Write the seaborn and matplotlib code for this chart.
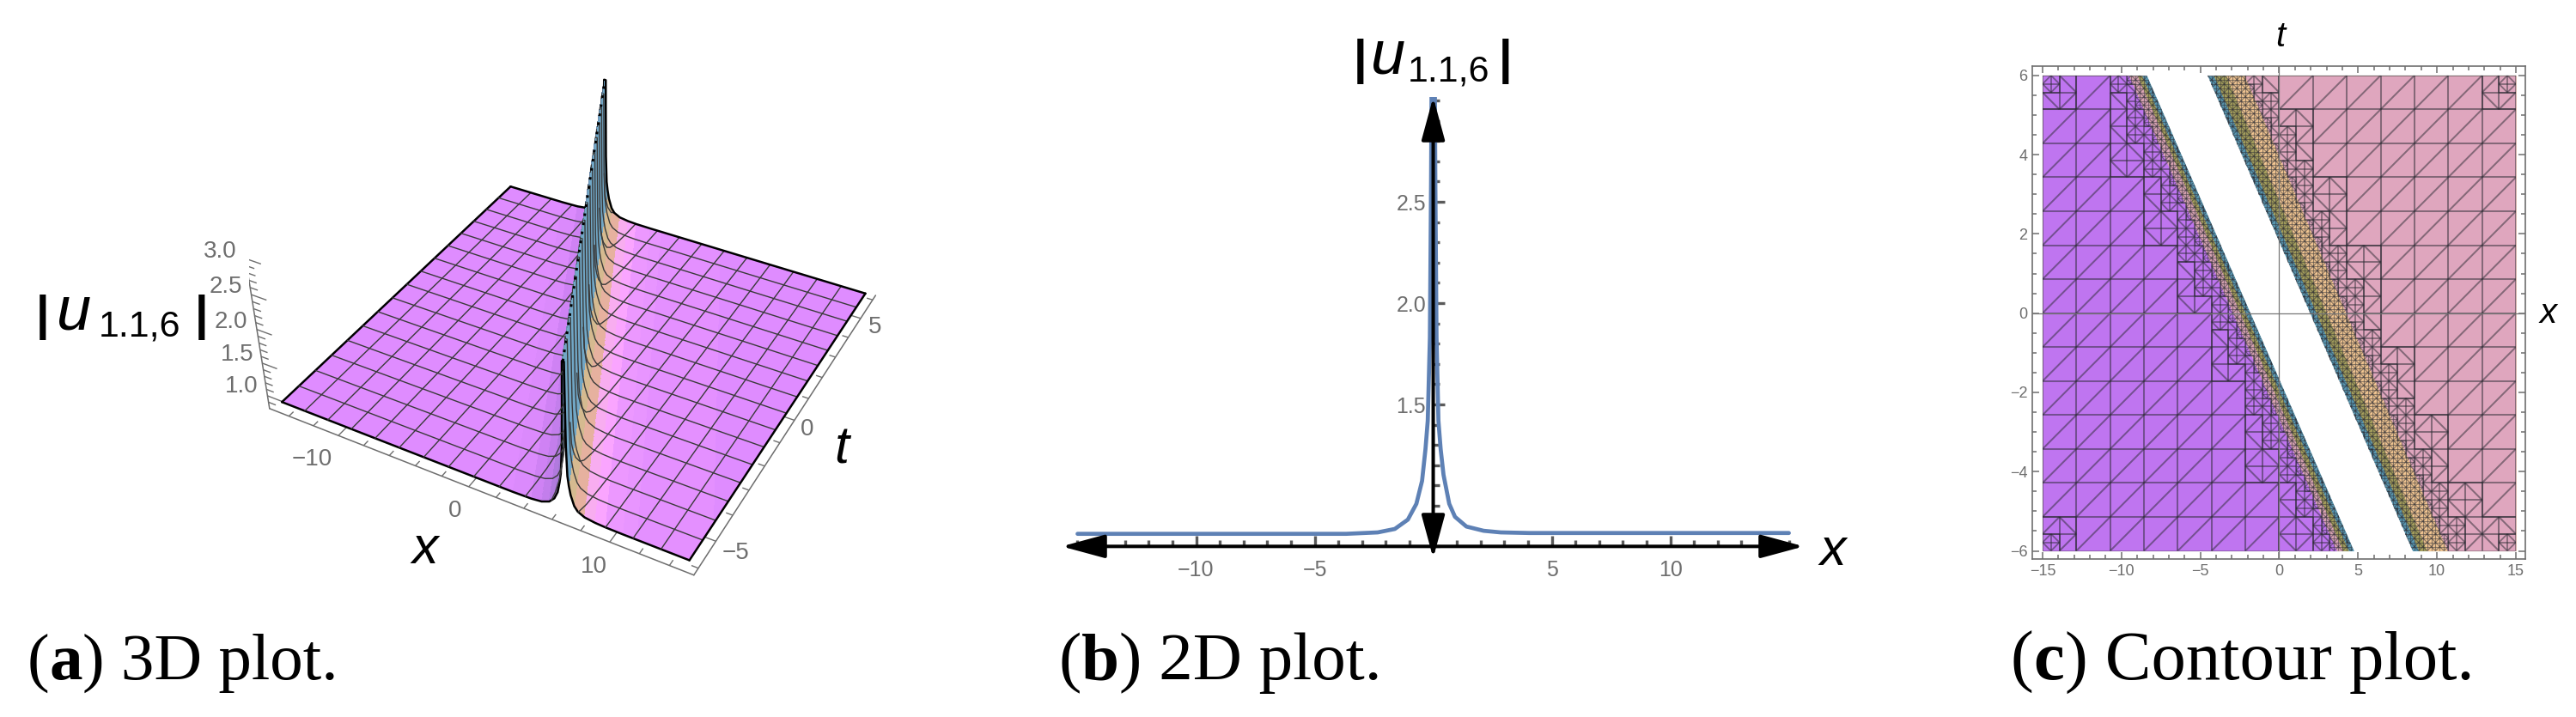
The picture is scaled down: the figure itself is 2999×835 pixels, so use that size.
import numpy as np
import matplotlib
matplotlib.use("Agg")
import matplotlib.pyplot as plt
import seaborn as sns
from matplotlib.collections import LineCollection
from matplotlib.colors import LinearSegmentedColormap
from matplotlib.path import Path
from matplotlib.ticker import FixedLocator, MultipleLocator, NullFormatter
from mpl_toolkits.mplot3d.art3d import Line3DCollection

# soliton profile
profile_x = [-15, -10, -5, -3.67, -2.34, -1.62, -1.07, -0.71, -0.47, -0.326, -0.23, -0.14,
             -0.115, -0.09, -0.07, 0, 0.07, 0.09, 0.115, 0.14, 0.22, 0.314, 0.435, 0.676,
             0.918, 1.40, 2.126, 2.85, 4.06, 5, 10, 15]
profile_u = [0.862, 0.862, 0.862, 0.862, 0.869, 0.886, 0.932, 1.01, 1.123, 1.28, 1.42, 1.83,
             2.21, 2.6, 3.05, 3.6, 3.05, 2.6, 2.21, 1.83, 1.42, 1.28, 1.153, 1.01,
             0.946, 0.898, 0.877, 0.869, 0.866, 0.866, 0.866, 0.866]
ridge_t = [-6, 6]
ridge_x = [6.54, -6.54]

# contour bands, x at t=-6 and t=6
t_edges = [-6, 6]
left_violet_end = [3.64, -9.54]
left_pink_end = [4.03, -9.0]
left_olive_end = [4.4, -8.7]
left_teal_end = [4.73, -8.4]
right_teal_start = [8.45, -4.55]
right_olive_start = [8.84, -4.16]
right_orange_start = [9.36, -3.38]
right_orange_end = [10.66, -2.2]

b_xticks = [-10, -5, 5, 10]
b_yticks = [1.5, 2.0, 2.5]
c_xticks = [-15, -10, -5, 0, 5, 10, 15]
c_yticks = [-6, -4, -2, 0, 2, 4, 6]
a_xlabels = ["\u221210", "0", "10"]
a_tlabels = ["\u22125", "0", "5"]
a_zlabels = ["1.0", "1.5", "2.0", "2.5", "3.0"]

W, H = 2999, 835
GRAY = "#6e6e6e"

sns.set_theme(style="white")
plt.rcParams["font.family"] = ["Liberation Sans", "DejaVu Sans"]

fig = plt.figure(figsize=(W / 100, H / 100), dpi=100)


def px_axes(left, top, right, bottom, **kw):
    return fig.add_axes([left / W, 1 - bottom / H, (right - left) / W, (bottom - top) / H], **kw)


def put(x, y, s, **kw):
    kw.setdefault("ha", "center")
    kw.setdefault("va", "center")
    return fig.text(x / W, 1 - y / H, s, **kw)


def u_label(bar1, u_x, sub_x, bar2, y):
    put(bar1, y, "|", fontsize=40, color="black", weight="bold")
    put(u_x, y - 5, "u", fontsize=52, color="black", style="italic")
    put(sub_x, y + 11, "1.1,6", fontsize=31, color="black")
    put(bar2, y, "|", fontsize=40, color="black", weight="bold")


def caption(x, letter, rest, size):
    renderer = fig.canvas.get_renderer()
    for text, weight in [("(", "normal"), (letter, "bold"), (rest, "normal")]:
        t = put(x, 791, text, fontsize=size, weight=weight, family="Liberation Serif",
                color="black", ha="left", va="baseline")
        x = t.get_window_extent(renderer).x1


# ---------- panel (a): 3D surface ----------
ax_a = fig.add_axes([289.6 / W, 117.4 / H, 765.9 / W, 765.9 / H], projection="3d",
                    computed_zorder=False)
ax_a.set_xlim(-15.6, 15.6)
ax_a.set_ylim(-6.25, 6.25)
ax_a.set_zlim(0.8, 3.0)
ax_a.view_init(elev=36.47, azim=-61.59)
ax_a.set_proj_type("persp", focal_length=0.438)
ax_a.set_box_aspect((1, 0.9966, 0.3946))
ax_a.set_axis_off()
ax_a.patch.set_alpha(0)

s = np.array([-40] + profile_x + [40], dtype=float)
u = np.minimum(np.array([profile_u[0]] + profile_u + [profile_u[-1]]), 3.0)
slope = (ridge_x[1] - ridge_x[0]) / (ridge_t[1] - ridge_t[0])

skin = LinearSegmentedColormap.from_list("skin", [
    (0.00, "#DF8CFF"), (0.45, "#DF8CFF"), (0.475, "#CB80F2"), (0.49, "#A878D8"),
    (0.496, "#7A6A95"), (0.499, "#6AA0C0"), (0.5, "#6FA5C5"), (0.503, "#72A8C6"),
    (0.5044, "#B8B8A0"), (0.5063, "#DDBA8C"), (0.51, "#E6B0A0"), (0.515, "#F2B0E4"),
    (0.521, "#FFAAFF"), (0.5375, "#EC98FF"), (0.58, "#DF8CFF"), (1.00, "#DF8CFF")])

t_rows = np.linspace(-6, 6, 73)
center = int(np.argmin(np.abs(s)))
for rng, order in [(np.arange(0, center + 1), 1), (np.arange(center, len(s)), 3)]:
    S, T = np.meshgrid(s[rng], t_rows)
    X = np.clip(S + slope * T, -15, 15)
    Z = np.tile(u[rng], (len(t_rows), 1))
    colors = skin((S + 40) / 80)
    ax_a.plot_surface(X, T, Z, facecolors=colors, shade=False, rstride=1, cstride=1,
                      linewidth=0, antialiased=False, zorder=order)

mesh_color = "#3a3a3a"
for k in range(17):
    edge = k in (0, 16)
    tk = -6 + 12 * k / 16
    xk = -15 + 30 * k / 16
    # lines of constant t follow the profile itself
    for rng, order in [(np.arange(0, center + 1), 2), (np.arange(center, len(s)), 4)]:
        ax_a.plot(np.clip(s[rng] + slope * tk, -15, 15), np.full(len(rng), tk), u[rng],
                  color="black" if edge else mesh_color, lw=1.8 if edge else 1.0,
                  zorder=order)
    # lines of constant x cross the ridge, right side stops partway up the wall
    t_line = np.linspace(-6, 6, 601)
    off = xk - slope * t_line
    z_line = np.interp(off, s, u)
    for mask, order in [(off <= 0, 2), (off >= 0.14, 4)]:
        if mask.sum() > 1:
            ax_a.plot(np.full(mask.sum(), xk), t_line[mask], z_line[mask],
                      color="black" if edge else mesh_color, lw=1.8 if edge else 1.0,
                      zorder=order)

# ridge crest
ax_a.plot(ridge_x, ridge_t, [3.0, 3.0], color="black", lw=2.2, ls=(0, (1, 2.5)), zorder=5)

# box axes with ticks pointing into the box
xb, tb, zb = -15.6, -6.25, 0.8
ax_a.plot([xb, -xb], [tb, tb], [zb, zb], color=GRAY, lw=1.1, zorder=0)
ax_a.plot([-xb, -xb], [tb, -tb], [zb, zb], color=GRAY, lw=1.1, zorder=0)
ax_a.plot([xb, xb], [tb, tb], [zb, 3.0], color=GRAY, lw=1.1, zorder=0)
segs = []
for v in np.arange(-14, 15, 2):
    segs.append([(v, tb, zb), (v, tb + (0.4 if v % 10 == 0 else 0.2), zb)])
for v in np.arange(-6, 7):
    segs.append([(-xb, v, zb), (-xb - (0.9 if v % 5 == 0 else 0.45), v, zb)])
for i in range(22):
    v = 0.9 + 0.1 * i
    segs.append([(xb, tb, v), (xb + (1.2 if i % 5 == 1 else 0.6), tb, v)])
ax_a.add_collection3d(Line3DCollection(segs, colors=GRAY, linewidths=1.0, zorder=0))

for (x, y), lab in zip([(363, 535), (530, 595), (691, 660)], a_xlabels):
    put(x, y, lab, fontsize=20, color=GRAY)
for (x, y), lab in zip([(857, 644), (940, 500), (1019, 381)], a_tlabels):
    put(x, y, lab, fontsize=20, color=GRAY)
for (x, y), lab in zip([(281, 450), (276, 413), (269, 375), (263, 334), (256, 293)], a_zlabels):
    put(x, y, lab, fontsize=20, color=GRAY)
put(495, 640, "x", fontsize=44, style="italic", color="black")
put(980, 524, "t", fontsize=44, style="italic", color="black")
u_label(50, 86, 163, 235, 369)
caption(32, "a", ") 3D plot.", 55.5)

# ---------- panel (b): profile at t = 0 ----------
ax_b = px_axes(1236, 113, 2100, 650)
ax_b.patch.set_alpha(0)
sns.lineplot(x=profile_x, y=profile_u, color="#5E81B5", linewidth=3.4, ax=ax_b,
             estimator=None, sort=False, zorder=2)
ax_b.set_xlim(-15.67, 15.63)
ax_b.set_ylim(0.742, 3.017)
for side in ["top", "right", "left", "bottom"]:
    ax_b.spines[side].set_visible(False)
ax_b.spines["left"].set_position(("data", 0))
ax_b.spines["bottom"].set_position(("data", 0.8))
ax_b.xaxis.set_major_locator(FixedLocator(b_xticks))
ax_b.xaxis.set_minor_locator(MultipleLocator(1))
ax_b.yaxis.set_major_locator(FixedLocator(b_yticks))
ax_b.yaxis.set_minor_locator(MultipleLocator(0.1))
ax_b.xaxis.set_minor_formatter(NullFormatter())
ax_b.yaxis.set_minor_formatter(NullFormatter())
ax_b.tick_params(which="both", direction="in", bottom=True, left=True, color="#5a5a5a", width=2.4)
ax_b.tick_params(which="major", length=9)
ax_b.tick_params(which="minor", length=5)
ax_b.tick_params(axis="x", which="major", pad=11, labelsize=18, labelcolor=GRAY)
ax_b.tick_params(axis="y", which="major", pad=6, labelsize=18, labelcolor=GRAY)
ax_b.set_yticklabels([f"{v:.1f}" for v in b_yticks])
arrow = dict(arrowstyle="<|-|>,head_length=31,head_width=8.4", color="black", lw=2.9,
             shrinkA=0, shrinkB=0, mutation_scale=1, zorder=4)
ax_b.annotate("", xy=(0, 3.017), xytext=(0, 0.742), arrowprops=arrow, annotation_clip=False)
ax_b.annotate("", xy=(15.63, 0.8), xytext=(-15.67, 0.8), arrowprops=arrow, annotation_clip=False)
put(2134, 642, "x", fontsize=44, style="italic", color="black")
u_label(1584, 1616, 1686, 1753, 72)
caption(1233, "b", ") 2D plot.", 57)

# ---------- panel (c): contour plot ----------
ax_c = px_axes(2366, 77, 2940, 651)
left_layers = [(left_teal_end, "#5A9AB5"), (left_olive_end, "#A9A35E"),
               (left_pink_end, "#DFA8B8"), (left_violet_end, "#BF75F0")]
right_layers = [(right_teal_start, "#5A9AB5"), (right_olive_start, "#A9A35E"),
                (right_orange_start, "#F7CA95"), (right_orange_end, "#DFA6BE")]
for edge, color in left_layers:
    ax_c.fill_betweenx(t_edges, [-15, -15], edge, color=color, lw=0, zorder=1)
for edge, color in right_layers:
    ax_c.fill_betweenx(t_edges, edge, [15, 15], color=color, lw=0, zorder=1)


def band_distance(cx, cy, bands):
    d = []
    for start, end in bands:
        a = np.interp(cy, t_edges, start)
        b = np.interp(cy, t_edges, end)
        d.append(max(a - cx, cx - b, 0))
    return min(d)


wide_bands = [(left_violet_end, left_teal_end), (right_teal_start, right_orange_end)]
narrow_bands = [(left_pink_end, left_teal_end), (right_teal_start, right_orange_start)]
split_limits = [2.6, 1.3, 0.15]


def wants_split(cx, cy, level, at_corner):
    if at_corner and level < 2:
        return True
    if level < 3:
        return band_distance(cx, cy, wide_bands) < split_limits[level]
    return False


mesh_segs = {}


def add_cell(x0, x1, y0, y1, level, ix, iy):
    cx, cy = (x0 + x1) / 2, (y0 + y1) / 2
    at_corner = (x0 <= -15 or x1 >= 15) and (y0 <= -6 or y1 >= 6)
    if wants_split(cx, cy, level, at_corner):
        for i, (a, b) in enumerate([(x0, cx), (cx, x1)]):
            for j, (c, d) in enumerate([(y0, cy), (cy, y1)]):
                add_cell(a, b, c, d, level + 1, i, j)
        return
    cell = [((x0, y0), (x1, y0)), ((x0, y1), (x1, y1)), ((x0, y0), (x0, y1)), ((x1, y0), (x1, y1))]
    if level == 0 or (ix + iy) % 2 == 1:
        cell.append(((x0, y0), (x1, y1)))
    else:
        cell.append(((x0, y1), (x1, y0)))
    for seg in cell:
        mesh_segs[seg] = level


xs = np.linspace(-15, 15, 15)
ys = np.linspace(-6, 6, 15)
for i in range(14):
    for j in range(14):
        add_cell(xs[i], xs[i + 1], ys[j], ys[j + 1], 0, 0, 0)

level_widths = [1.45, 1.45, 1.3, 0.9]
tri_mesh = LineCollection(list(mesh_segs), colors="#2b2b33", alpha=0.5, zorder=2,
                          linewidths=[level_widths[v] for v in mesh_segs.values()])
ax_c.add_collection(tri_mesh)
region = Path.make_compound_path(
    Path([(-15, -6), (left_teal_end[0], -6), (left_teal_end[1], 6), (-15, 6), (-15, -6)]),
    Path([(15, -6), (right_teal_start[0], -6), (right_teal_start[1], 6), (15, 6), (15, -6)]))
tri_mesh.set_clip_path(region, ax_c.transData)

ax_c.axhline(0, color="#777777", lw=0.9, zorder=3)
ax_c.axvline(0, color="#777777", lw=0.9, zorder=3)
ax_c.set_xlim(-15.65, 15.6)
ax_c.set_ylim(-6.205, 6.235)
ax_c.xaxis.set_major_locator(FixedLocator(c_xticks))
ax_c.xaxis.set_minor_locator(MultipleLocator(1))
ax_c.yaxis.set_major_locator(FixedLocator(c_yticks))
ax_c.yaxis.set_minor_locator(MultipleLocator(0.5))
ax_c.tick_params(which="both", direction="in", top=True, right=True, bottom=True, left=True,
                 color=GRAY, width=1.1, labelsize=13, labelcolor=GRAY, pad=4)
ax_c.tick_params(which="major", length=6)
ax_c.tick_params(which="minor", length=3.5)
for sp in ax_c.spines.values():
    sp.set_color(GRAY)
    sp.set_linewidth(1.2)
put(2655, 43, "t", fontsize=29, style="italic", color="black")
put(2967, 365, "x", fontsize=29, style="italic", color="black")
caption(2341, "c", ") Contour plot.", 58)

fig.savefig("out.png", dpi=100)
